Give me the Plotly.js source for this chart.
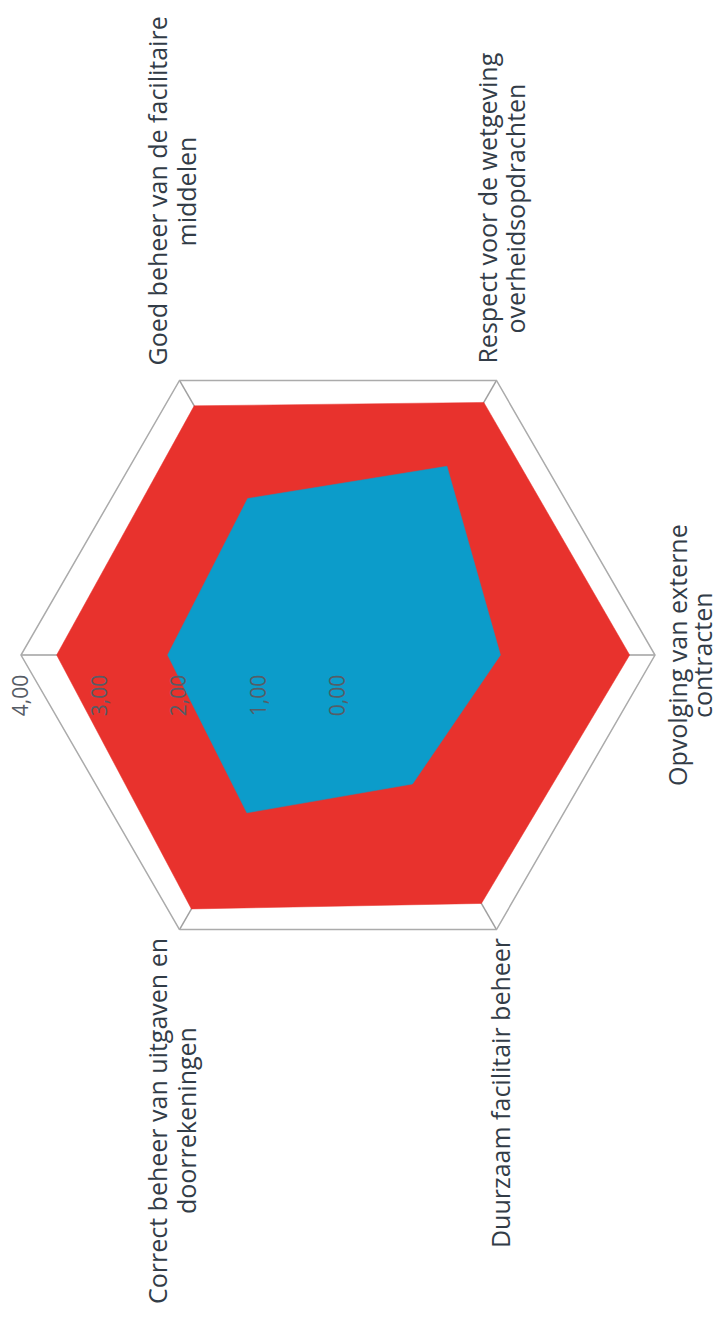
<!DOCTYPE html>
<html>
<head>
<meta charset="utf-8">
<script src="https://cdn.plot.ly/plotly-3.0.1.min.js"></script>
<style>
html,body{margin:0;padding:0;background:#ffffff;}
#chart{width:722px;height:1328px;}
</style>
</head>
<body>
<div id="chart"></div>
<script>
// Categories in drawing order (first one points to the left; its label is cut off in the source)
const categories = [
  "As 1",
  "Goed beheer van de facilitaire middelen",
  "Respect voor de wetgeving overheidsopdrachten",
  "Opvolging van externe contracten",
  "Duurzaam facilitair beheer",
  "Correct beheer van uitgaven en doorrekeningen"
];
// Visible label lines (the first one lies outside the picture)
const labelLines = [
  null,
  ["Goed beheer van de facilitaire", "middelen"],
  ["Respect voor de wetgeving", "overheidsopdrachten"],
  ["Opvolging van externe", "contracten"],
  ["Duurzaam facilitair beheer"],
  ["Correct beheer van uitgaven en", "doorrekeningen"]
];
const redValues  = [3.55, 3.63, 3.68, 3.68, 3.62, 3.70];
const blueValues = [2.15, 2.28, 2.75, 2.05, 1.88, 2.30];
const tickValues = [0, 1, 2, 3, 4];

const W = 722, H = 1328;
const px = x => x / W;
const py = y => 1 - y / H;
function closed(arr) { return arr.concat([arr[0]]); }

const FONT_FAMILY = 'Open Sans, Noto Sans, sans-serif';
const LABEL_SIZE = 25;

// measure a text line's length (used to centre the second line on the first)
const ctx = document.createElement('canvas').getContext('2d');
ctx.font = LABEL_SIZE + 'px "Open Sans"';
const textLen = s => ctx.measureText(s).width;

const traces = [
  {
    type: 'scatterpolar',
    r: closed(redValues),
    theta: closed(categories),
    fill: 'toself',
    fillcolor: '#E8322D',
    line: {color: '#E8322D', width: 0.5},
    mode: 'lines',
    hoverinfo: 'skip'
  },
  {
    type: 'scatterpolar',
    r: closed(blueValues),
    theta: closed(categories),
    fill: 'toself',
    fillcolor: '#0C9CCA',
    line: {color: '#0C9CCA', width: 0.5},
    mode: 'lines',
    hoverinfo: 'skip'
  }
];

const labelFont = {family: FONT_FAMILY, size: LABEL_SIZE, color: '#323c47'};
// placement per label: line x-centres (px), anchor y (px), anchor kind
//  'start'  : text begins at y (reads upward from there)
//  'end'    : text ends at y (first line's top end)
//  'middle' : block centred at y
const placements = [
  null,
  {xs: [157, 186], y: 366, kind: 'start'},
  {xs: [487, 515], y: 364, kind: 'start'},
  {xs: [677, 702], y: 655, kind: 'middle'},
  {xs: [500],      y: 938, kind: 'end'},
  {xs: [157, 186], y: 938, kind: 'end'}
];

const annotations = [];
labelLines.forEach((lines, i) => {
  if (!lines) return;
  const p = placements[i];
  const L1 = textLen(lines[0]);
  let cy;
  if (p.kind === 'start') cy = p.y - L1 / 2;
  else if (p.kind === 'end') cy = p.y + L1 / 2;
  else cy = p.y;
  lines.forEach((ln, j) => {
    annotations.push({
      xref: 'paper', yref: 'paper',
      x: px(p.xs[j]), y: py(cy),
      xanchor: 'center', yanchor: 'middle',
      text: ln,
      showarrow: false,
      textangle: -90,
      font: labelFont
    });
  });
});

const layout = {
  width: W, height: H,
  margin: {l: 0, r: 0, t: 0, b: 0},
  paper_bgcolor: '#ffffff',
  showlegend: false,
  separators: ',.',
  polar: {
    domain: {x: [px(21), px(655)], y: [py(972), py(338)]},
    bgcolor: 'rgba(0,0,0,0)',
    gridshape: 'linear',
    angularaxis: {
      type: 'category',
      categoryorder: 'array',
      categoryarray: categories,
      rotation: 180,
      direction: 'clockwise',
      showticklabels: false,
      ticks: '',
      showgrid: true,
      gridcolor: '#a0a0a0',
      gridwidth: 1.5,
      showline: true,
      linecolor: '#ababab',
      linewidth: 1.5,
      layer: 'above traces'
    },
    radialaxis: {
      range: [0, 4],
      angle: 180,
      tickvals: tickValues,
      tickformat: '.2f',
      tickangle: 90,
      showgrid: false,
      showline: false,
      ticks: 'outside',
      ticklen: 12,
      tickcolor: 'rgba(0,0,0,0)',
      side: 'counterclockwise',
      tickfont: {family: FONT_FAMILY, size: 21, color: '#565c66'},
      layer: 'above traces'
    }
  },
  annotations: annotations
};

Plotly.newPlot('chart', traces, layout, {displayModeBar: false, staticPlot: true});
</script>
</body>
</html>
